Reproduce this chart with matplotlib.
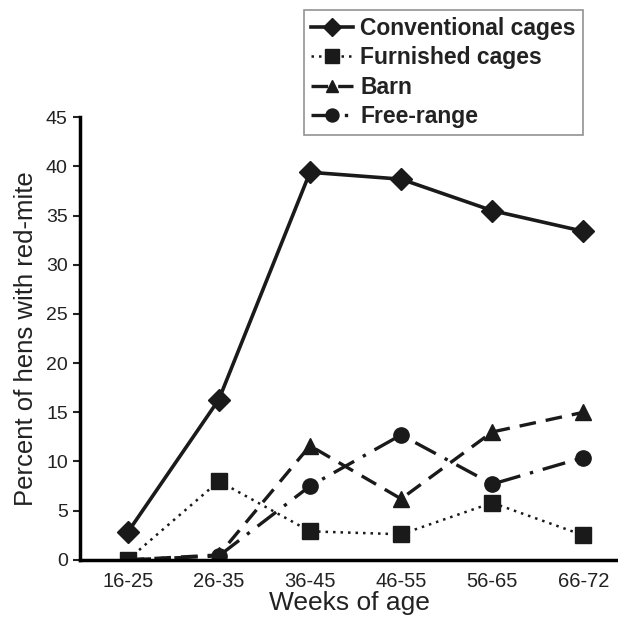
import matplotlib
matplotlib.use("Agg")
import matplotlib.pyplot as plt

weeks = ["16-25", "26-35", "36-45", "46-55", "56-65", "66-72"]
conventional = [2.8, 16.3, 39.4, 38.7, 35.5, 33.4]
furnished = [0.0, 8.0, 2.9, 2.6, 5.8, 2.5]
barn = [0.0, 0.5, 11.6, 6.2, 13.0, 15.0]
free_range = [0.0, 0.4, 7.5, 12.7, 7.7, 10.4]

plt.rcParams['font.family'] = ['Liberation Sans', 'DejaVu Sans']

fig = plt.figure(figsize=(6.18, 6.2), dpi=100)
ax = fig.add_axes([0.13, 0.097, 0.87, 0.714])

x = list(range(len(weeks)))
col = '#1a1a1a'
ax.plot(x, conventional, color=col, lw=2.6, marker='D', ms=11, label='Conventional cages')
ax.plot(x, furnished, color=col, lw=1.8, ls=(0, (1, 2)), marker='s', ms=12, label='Furnished cages')
ax.plot(x, barn, color=col, lw=2.4, ls=(0, (5, 3)), marker='^', ms=11, label='Barn')
ax.plot(x, free_range, color=col, lw=2.4, ls=(0, (7, 3, 1, 3)), marker='o', ms=11, label='Free-range')

ax.set_xlim(-0.52, 5.38)
ax.set_ylim(0, 45)
ax.set_yticks(range(0, 46, 5))
ax.set_xticks(x)
ax.set_xticklabels(weeks)
ax.spines['top'].set_visible(False)
ax.spines['right'].set_visible(False)
ax.spines['left'].set_linewidth(2.5)
ax.spines['bottom'].set_linewidth(2.5)
ax.tick_params(axis='y', labelsize=14, length=5, width=1.5, pad=4, colors='#222222')
ax.tick_params(axis='x', labelsize=14.5, length=0, pad=9, colors='#222222')
ax.set_xlabel('Weeks of age', fontsize=19, color='#222222', labelpad=0)
ax.set_ylabel('Percent of hens with red-mite', fontsize=18.5, color='#222222', labelpad=6)

leg = fig.legend(loc='upper left', bbox_to_anchor=(304 / 618, 1 - 10 / 620),
                 frameon=True, fancybox=False, edgecolor='#777777',
                 prop={'weight': 'bold', 'size': 16.5}, handlelength=1.85,
                 handletextpad=0.3, labelspacing=0.28, borderpad=0.3,
                 borderaxespad=0, markerscale=0.85)
leg.get_frame().set_linewidth(1.2)
for t in leg.get_texts():
    t.set_color('#222222')

fig.savefig('out.png', dpi=100)
